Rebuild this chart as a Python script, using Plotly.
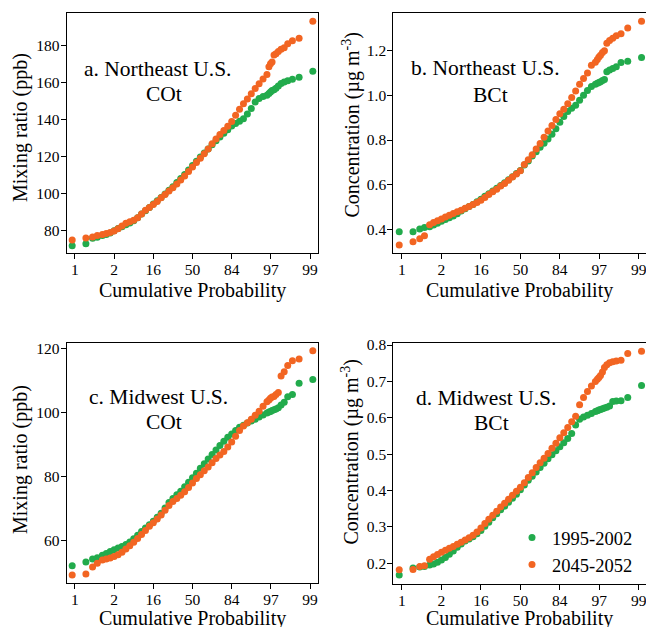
import plotly.graph_objects as go

# Standard-normal quantile positions of the plotted points (x axis, in sigma units)
QUANTILES = [-3.07, -2.72, -2.55, -2.43,
             -2.3, -2.2, -2.1, -2.0, -1.9, -1.8, -1.7, -1.6, -1.5, -1.4, -1.3, -1.2, -1.1, -1.0,
             -0.9, -0.8, -0.7, -0.6, -0.5, -0.4, -0.3, -0.2, -0.1, 0.0, 0.1, 0.2, 0.3, 0.4, 0.5,
             0.6, 0.7, 0.8, 0.9, 1.0, 1.1, 1.2, 1.3, 1.4, 1.5, 1.6, 1.7, 1.8, 1.9,
             1.95, 1.99, 2.03, 2.08, 2.13, 2.19, 2.26, 2.34, 2.43, 2.55, 2.72, 3.07]

PROB_TICKS = [-3, -2, -1, 0, 1, 2, 3]
PROB_LABELS = ["1", "2", "16", "50", "84", "97", "99"]

SERIES_NAMES = ["1995-2002", "2045-2052"]

# a. Northeast U.S. COt (ppb)
NE_CO_1995 = [71.9, 73.0, 75.9, 76.5,
              77.4, 78.0, 78.8, 80.0, 81.2, 82.2, 83.2, 84.2, 85.4, 87.0, 89.0, 90.8, 92.6, 94.4,
              96.2, 98.0, 99.8, 101.8, 103.8, 106.0, 108.2, 110.4, 112.8, 115.2, 117.6, 119.8, 122.0, 124.2, 126.4,
              128.6, 130.6, 132.6, 134.6, 136.6, 138.0, 139.2, 140.5, 143.0, 146.0, 149.5, 151.5, 152.5, 153.2,
              154.2, 155.0, 155.8, 156.2, 157.0, 158.2, 159.5, 160.4, 161.0, 161.8, 162.9, 166.2]
NE_CO_2045 = [75.0, 76.0, 76.6, 77.4,
              78.0, 78.5, 79.0, 79.8, 81.0, 82.5, 84.0, 84.8, 85.6, 87.0, 89.0, 91.0, 92.6, 94.2,
              95.8, 97.8, 99.6, 101.4, 103.2, 105.2, 107.4, 109.6, 112.0, 114.4, 116.8, 119.2, 121.6, 124.2, 127.0,
              129.6, 132.0, 134.2, 136.4, 139.0, 142.4, 145.6, 148.6, 151.2, 154.0, 156.8, 159.4, 162.0, 164.4,
              168.6, 170.2, 171.2, 175.0, 175.6, 176.8, 178.0, 178.8, 181.0, 182.7, 184.0, 193.2]

# b. Northeast U.S. BCt (ug m-3)
NE_BC_1995 = [0.390, 0.390, 0.402, 0.408,
              0.412, 0.420, 0.428, 0.436, 0.444, 0.452, 0.460, 0.470, 0.482, 0.492, 0.502, 0.512, 0.524, 0.535,
              0.548, 0.560, 0.572, 0.584, 0.596, 0.609, 0.622, 0.636, 0.650, 0.664, 0.688, 0.706, 0.728, 0.748, 0.768,
              0.786, 0.805, 0.826, 0.850, 0.880, 0.905, 0.928, 0.942, 0.956, 0.978, 1.000, 1.022, 1.040, 1.050,
              1.054, 1.058, 1.061, 1.066, 1.071, 1.106, 1.113, 1.120, 1.128, 1.147, 1.153, 1.170]
NE_BC_2045 = [0.330, 0.345, 0.358, 0.372,
              0.421, 0.431, 0.439, 0.446, 0.456, 0.463, 0.471, 0.479, 0.486, 0.495, 0.502, 0.511, 0.520, 0.530,
              0.543, 0.556, 0.568, 0.580, 0.594, 0.606, 0.620, 0.634, 0.648, 0.663, 0.690, 0.712, 0.734, 0.760, 0.785,
              0.812, 0.840, 0.865, 0.892, 0.918, 0.938, 0.962, 0.990, 1.020, 1.050, 1.075, 1.100, 1.135, 1.148,
              1.160, 1.172, 1.180, 1.192, 1.200, 1.233, 1.245, 1.256, 1.267, 1.276, 1.302, 1.332]

# c. Midwest U.S. COt (ppb)
MW_CO_1995 = [52.2, 53.4, 54.3, 54.7,
              55.5, 56.0, 56.6, 57.2, 57.7, 58.2, 58.8, 59.6, 60.6, 61.7, 62.9, 64.0, 65.0, 66.1,
              67.3, 68.6, 70.2, 71.9, 73.2, 74.3, 75.4, 76.8, 78.2, 79.6, 81.0, 82.6, 84.0, 85.5, 86.9,
              88.3, 89.7, 91.0, 92.3, 93.3, 94.4, 95.4, 96.0, 96.7, 97.3, 97.9, 98.6, 99.2, 99.8,
              100.1, 100.3, 100.6, 100.8, 101.1, 101.5, 102.3, 103.2, 104.9, 105.6, 109.1, 110.3]
MW_CO_2045 = [49.3, 49.6, 51.8, 53.0,
              54.0, 54.3, 54.6, 55.1, 55.6, 56.4, 57.4, 58.4, 59.5, 60.7, 61.9, 63.2, 64.5, 65.6,
              66.8, 68.0, 69.5, 71.0, 72.2, 73.2, 74.2, 75.3, 76.6, 78.0, 79.4, 80.6, 81.8, 83.0, 84.3,
              85.6, 86.7, 87.8, 89.2, 90.8, 92.6, 94.4, 95.8, 96.8, 97.9, 99.1, 100.4, 101.9, 103.3,
              103.9, 104.4, 104.8, 105.0, 105.6, 106.2, 111.4, 112.7, 114.6, 116.1, 116.7, 119.2]

# d. Midwest U.S. BCt (ug m-3)
MW_BC_1995 = [0.168, 0.187, 0.190, 0.191,
              0.195, 0.198, 0.203, 0.209, 0.216, 0.225, 0.234, 0.244, 0.253, 0.261, 0.267, 0.273, 0.281, 0.290,
              0.302, 0.313, 0.325, 0.336, 0.347, 0.357, 0.368, 0.379, 0.390, 0.402, 0.415, 0.428, 0.439, 0.451, 0.463,
              0.475, 0.487, 0.498, 0.509, 0.520, 0.531, 0.543, 0.557, 0.580, 0.596, 0.602, 0.607, 0.612, 0.617,
              0.619, 0.621, 0.623, 0.625, 0.627, 0.629, 0.632, 0.645, 0.646, 0.647, 0.656, 0.689]
MW_BC_2045 = [0.182, 0.183, 0.191, 0.193,
              0.211, 0.218, 0.224, 0.230, 0.236, 0.241, 0.246, 0.252, 0.258, 0.264, 0.270, 0.277, 0.286, 0.297,
              0.309, 0.321, 0.332, 0.343, 0.355, 0.365, 0.376, 0.387, 0.398, 0.409, 0.421, 0.436, 0.449, 0.463, 0.476,
              0.489, 0.502, 0.516, 0.530, 0.545, 0.559, 0.573, 0.589, 0.604, 0.636, 0.656, 0.672, 0.687, 0.700,
              0.706, 0.711, 0.716, 0.726, 0.738, 0.746, 0.751, 0.754, 0.756, 0.758, 0.777, 0.783]

GREEN = "#22ab4c"
ORANGE = "#f26522"
FONT = "Liberation Serif"
W, H = 646, 627

def px_x(p):
    return p / W

def px_y(p):
    return 1 - p / H

panels = [
    dict(data=(NE_CO_1995, NE_CO_2045), xd=(66.7, 318.3), yd=(12.7, 253.3),
         xr=[-3.21, 3.21], yr=[67.8, 197.8], yt=[80, 100, 120, 140, 160, 180], fmt="d"),
    dict(data=(NE_BC_1995, NE_BC_2045), xd=(393.3, 645.5), yd=(12.7, 253.3),
         xr=[-3.22, 3.17], yr=[0.293, 1.37], yt=[0.4, 0.6, 0.8, 1.0, 1.2], fmt=".1f"),
    dict(data=(MW_CO_1995, MW_CO_2045), xd=(66.7, 318.3), yd=(343.3, 583.3),
         xr=[-3.21, 3.21], yr=[46.72, 121.56], yt=[60, 80, 100, 120], fmt="d"),
    dict(data=(MW_BC_1995, MW_BC_2045), xd=(393.3, 645.5), yd=(343.3, 584.0),
         xr=[-3.22, 3.17], yr=[0.143, 0.8047], yt=[0.2, 0.3, 0.4, 0.5, 0.6, 0.7, 0.8], fmt=".1f"),
]

fig = go.Figure()
layout = {}
for i, p in enumerate(panels):
    k = "" if i == 0 else str(i + 1)
    for j, (vals, col) in enumerate(zip(p["data"], (GREEN, ORANGE))):
        fig.add_trace(go.Scatter(
            x=QUANTILES, y=vals, mode="markers", xaxis="x" + k, yaxis="y" + k,
            marker=dict(color=col, size=7, line=dict(width=0)),
            name=SERIES_NAMES[j], legendgroup=SERIES_NAMES[j], showlegend=(i == 3)))
    axis_common = dict(showline=True, mirror=True, linecolor="black", linewidth=1,
                       ticks="outside", ticklen=5, tickcolor="black", tickwidth=1,
                       showgrid=False, zeroline=False, automargin=False,
                       ticklabeloverflow="allow",
                       tickfont=dict(family=FONT, size=15.5, color="black"))
    layout["xaxis" + k] = dict(axis_common, domain=[px_x(p["xd"][0]), px_x(p["xd"][1])],
                               range=p["xr"], tickvals=PROB_TICKS, ticktext=PROB_LABELS,
                               anchor="y" + k, ticklabelstandoff=-3)
    layout["yaxis" + k] = dict(axis_common, domain=[px_y(p["yd"][1]), px_y(p["yd"][0])],
                               range=p["yr"], tickvals=p["yt"], tickformat=p["fmt"],
                               anchor="x" + k, ticklabelstandoff=-2)

ann = []
def text(x, y, s, size, angle=0):
    ann.append(dict(x=px_x(x), y=px_y(y), xref="paper", yref="paper", text=s,
                    showarrow=False, xanchor="center", yanchor="middle", textangle=angle,
                    font=dict(family=FONT, size=size, color="black")))

# panel labels
text(158.3, 69, "a. Northeast U.S.", 21.5)
text(163.7, 94, "COt", 21.5)
text(485.8, 68.3, "b. Northeast U.S.", 21.5)
text(490.8, 95, "BCt", 21.5)
text(158.7, 397.3, "c. Midwest U.S.", 21.5)
text(163.7, 421.7, "COt", 21.5)
text(485.8, 398.3, "d. Midwest U.S.", 21.5)
text(491.3, 423.3, "BCt", 21.5)

# axis titles
for cx, cy in [(192.5, 290), (519.5, 290), (192.5, 618), (519.5, 618)]:
    text(cx, cy, "Cumulative Probability", 20)
text(20, 128, "Mixing ratio (ppb)", 20, -90)
text(20, 460, "Mixing ratio (ppb)", 20, -90)
text(350.5, 125, "Concentration (µg m<sup>-3</sup>)", 20, -90)
text(350.5, 452, "Concentration (µg m<sup>-3</sup>)", 20, -90)

layout.update(dict(
    template="none",
    width=W, height=H, margin=dict(l=0, r=0, t=0, b=0, pad=0, autoexpand=False),
    paper_bgcolor="white", plot_bgcolor="white",
    annotations=ann,
    legend=dict(x=px_x(512), y=px_y(519), xanchor="left", yanchor="top",
                bgcolor="rgba(0,0,0,0)", borderwidth=0,
                font=dict(family=FONT, size=18.5, color="black"),
                itemsizing="trace", tracegroupgap=0),
))
fig.update_layout(layout)
fig.write_html("out.html", config={"displayModeBar": False},
               post_script="document.body.style.margin='0px';document.body.style.padding='0px';"
                           "document.body.style.overflow='hidden';")
